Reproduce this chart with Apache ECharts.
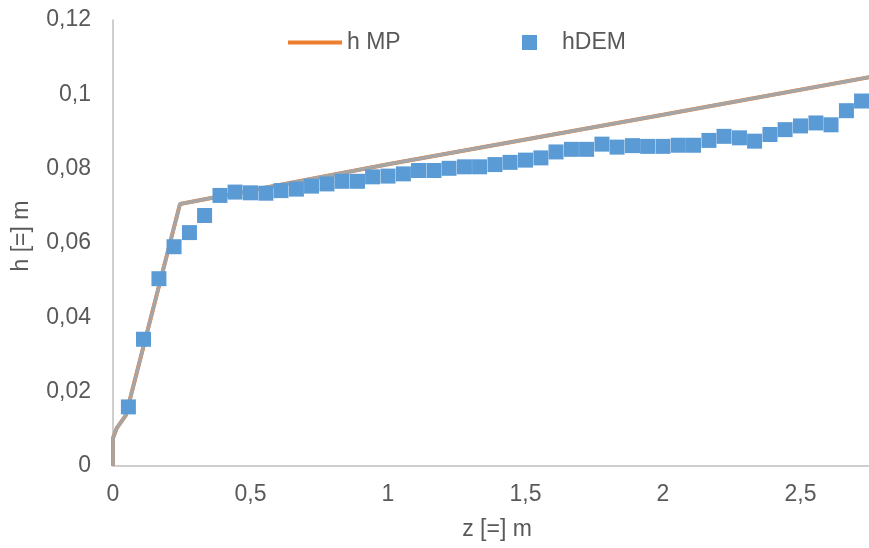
<!DOCTYPE html>
<html><head><meta charset="utf-8">
<script src="https://cdn.jsdelivr.net/npm/echarts@6/dist/echarts.min.js"></script>
<style>html,body{margin:0;padding:0;background:#fff;overflow:hidden}#c{width:869px;height:548px}</style>
</head><body><div id="c"></div>
<script>
// Model line h MP (z, h)
const mpZ = [0, 0, 0.013, 0.047, 0.2436, 1.0, 2.0, 2.778];
const mpH = [0, 0.0075, 0.0101, 0.0137, 0.0705, 0.0812, 0.0945, 0.1050];
// hDEM points
const demZ = [0.056,0.111,0.167,0.222,0.278,0.333,0.389,0.444,0.5,0.556,0.611,0.667,0.722,0.778,0.833,0.889,0.944,1,1.056,1.111,1.167,1.222,1.278,1.333,1.389,1.444,1.5,1.556,1.611,1.667,1.722,1.778,1.833,1.889,1.944,2,2.056,2.111,2.167,2.222,2.278,2.333,2.389,2.444,2.5,2.556,2.611,2.667,2.722,2.778];
const demH = [0.0159,0.0341,0.0504,0.0590,0.0628,0.0674,0.0728,0.0737,0.0735,0.0734,0.0741,0.0745,0.0753,0.0759,0.0766,0.0766,0.0778,0.0780,0.0786,0.0795,0.0795,0.0801,0.0805,0.0805,0.0811,0.0817,0.0823,0.0829,0.0845,0.0852,0.0852,0.0866,0.0858,0.0862,0.0860,0.0860,0.0863,0.0863,0.0876,0.0887,0.0883,0.0874,0.0892,0.0905,0.0915,0.0923,0.0918,0.0956,0.0982,0.1027];
const xTitle = 'z [=] m';
const yTitle = 'h [=] m';

const mpData = mpZ.map((z,i)=>[z, mpH[i]]);
const demData = demZ.map((z,i)=>[z, demH[i]]);
const fmt = v => String(+v.toFixed(2)).replace('.', ',');
const font = 'Liberation Sans, Arial, sans-serif';
const tc = '#595959';

const chart = echarts.init(document.getElementById('c'));
chart.setOption({
  animation: false,
  backgroundColor: '#fff',
  grid: {left: 113, width: 825, top: 20, height: 446, containLabel: false, outerBoundsMode: 'none'},
  xAxis: {
    type: 'value', min: 0, max: 3, interval: 0.5,
    axisLine: {lineStyle: {color: '#BFBFBF', width: 1.5}},
    axisTick: {show: false}, splitLine: {show: false},
    axisLabel: {formatter: fmt, color: tc, fontSize: 23, fontFamily: font, margin: 17}
  },
  yAxis: {
    type: 'value', min: 0, max: 0.12, interval: 0.02,
    axisLine: {show: true, lineStyle: {color: '#BFBFBF', width: 1.5}},
    axisTick: {show: false}, splitLine: {show: false},
    axisLabel: {formatter: fmt, color: tc, fontSize: 23, fontFamily: font, margin: 22}
  },
  legend: [
    {data: [{name: 'h MP', icon: 'rect'}], left: 283, top: 26, itemWidth: 54, itemHeight: 4,
     textStyle: {color: tc, fontSize: 23, fontFamily: font}},
    {data: [{name: 'hDEM', icon: 'rect'}], left: 517, top: 26, itemWidth: 15, itemHeight: 15,
     textStyle: {color: tc, fontSize: 23, fontFamily: font, padding: [0,0,0,20]}}
  ],
  graphic: [
    {type: 'text', x: 497, y: 530, style: {text: xTitle, fill: tc, font: '23px ' + font, align: 'center', verticalAlign: 'middle'}},
    {type: 'text', x: 22, y: 236, rotation: Math.PI/2, style: {text: yTitle, fill: tc, font: '23px ' + font, align: 'center', verticalAlign: 'middle'}}
  ],
  series: [
    {name: 'h MP', type: 'line', data: mpData, showSymbol: false, symbol: 'none',
     lineStyle: {color: '#ED7D31', width: 4}, itemStyle: {color: '#ED7D31'}, z: 2},
    {name: 'mpGray', type: 'line', data: mpData, showSymbol: false, symbol: 'none',
     lineStyle: {color: '#A5A5A5', width: 3.5}, itemStyle: {color: '#A5A5A5'}, z: 3},
    {name: 'hDEM', type: 'scatter', data: demData, symbol: 'rect', symbolSize: 15,
     itemStyle: {color: '#5B9BD5', opacity: 1}, z: 4}
  ]
});
</script></body></html>
